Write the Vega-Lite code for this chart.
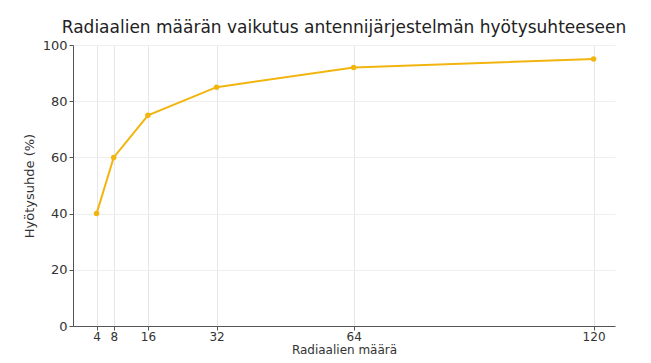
{
  "$schema": "https://vega.github.io/schema/vega-lite/v6.json",
  "autosize": {"type": "none"},
  "width": 542,
  "height": 281,
  "padding": {"left": 73, "top": 45, "right": 36, "bottom": 37},
  "background": "white",
  "title": {
    "text": "Radiaalien määrän vaikutus antennijärjestelmän hyötysuhteeseen",
    "font": "DejaVu Sans",
    "fontSize": 17,
    "fontWeight": "normal",
    "color": "#222",
    "anchor": "middle",
    "offset": 2
  },
  "data": {
    "values": [
      {"radiaalit": 4, "hyotysuhde": 40},
      {"radiaalit": 8, "hyotysuhde": 60},
      {"radiaalit": 16, "hyotysuhde": 75},
      {"radiaalit": 32, "hyotysuhde": 85},
      {"radiaalit": 64, "hyotysuhde": 92},
      {"radiaalit": 120, "hyotysuhde": 95}
    ]
  },
  "mark": {"type": "line", "color": "#f2b50f", "strokeWidth": 2, "point": {"filled": true, "size": 30, "color": "#f2b50f"}},
  "encoding": {
    "x": {
      "field": "radiaalit",
      "type": "quantitative",
      "title": "Radiaalien määrä",
      "scale": {"domain": [-1.5, 125], "nice": false, "zero": false},
      "axis": {"values": [4, 8, 16, 32, 64, 120], "grid": true, "gridColor": "#e6e6e6", "labelFont": "DejaVu Sans", "labelFontSize": 12, "labelColor": "#333", "titleFont": "DejaVu Sans", "titleFontSize": 12, "titleFontWeight": "normal", "titleColor": "#333", "domainColor": "#555", "tickColor": "#555", "tickSize": 4, "labelPadding": 1, "titlePadding": 2}
    },
    "y": {
      "field": "hyotysuhde",
      "type": "quantitative",
      "title": "Hyötysuhde (%)",
      "scale": {"domain": [0, 100], "nice": false},
      "axis": {"values": [0, 20, 40, 60, 80, 100], "grid": true, "gridColor": "#eeeeee", "labelFont": "DejaVu Sans", "labelFontSize": 13, "labelColor": "#333", "titleFont": "DejaVu Sans", "titleFontSize": 13, "titleFontWeight": "normal", "titleColor": "#333", "domainColor": "#555", "tickColor": "#555", "tickSize": 4, "labelPadding": 2, "titlePadding": 6}
    }
  },
  "config": {"view": {"stroke": null}}
}
